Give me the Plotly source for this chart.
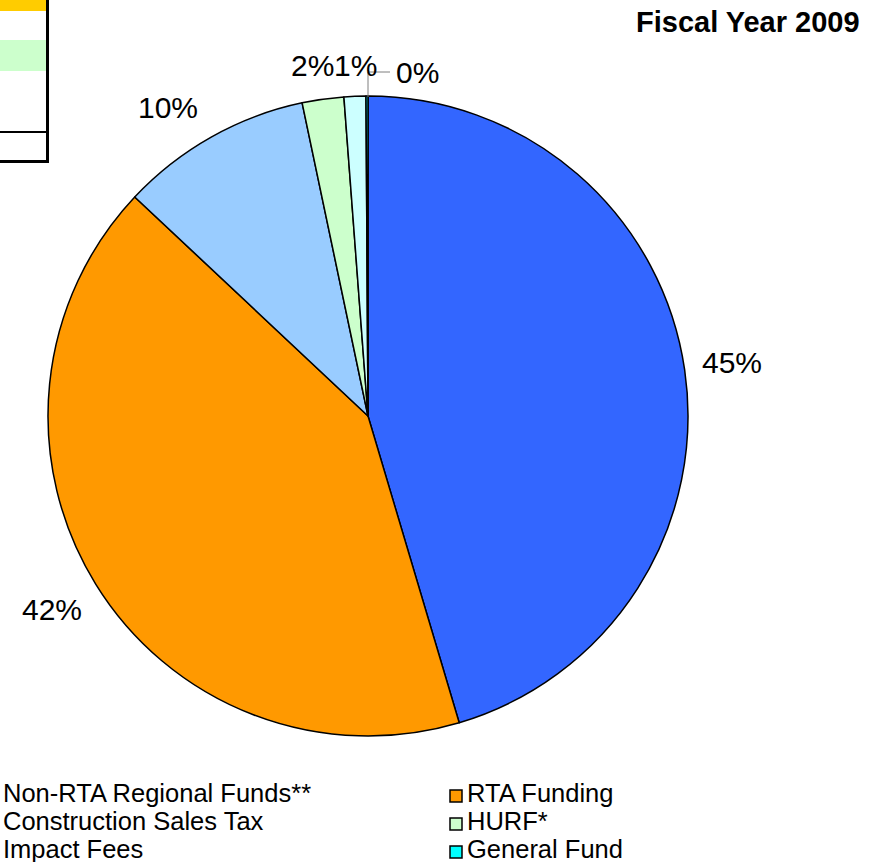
import plotly.graph_objects as go

# ---- data ----
categories = ["Non-RTA Regional Funds**", "RTA Funding", "Construction Sales Tax",
              "HURF*", "Impact Fees", "General Fund"]
shares = [45.4, 41.6, 9.7, 2.1, 1.1, 0.1]
slice_colors = ["#3366FF", "#FF9900", "#99CCFF", "#CCFFCC", "#CCFFFF", "#00FFFF"]
title_text = "Fiscal Year 2009"

# ---- layout helpers ----
W, H = 884, 862
def px(x):
    return x / W
def py(y):
    return 1 - y / H

FONT = "Liberation Sans, Arial, Helvetica, sans-serif"

fig = go.Figure()
fig.add_trace(go.Pie(
    labels=categories,
    values=shares,
    sort=False,
    direction="clockwise",
    rotation=0,
    marker=dict(colors=slice_colors, line=dict(color="black", width=1.5)),
    textinfo="none",
    hovertemplate="%{label}: %{percent}<extra></extra>",
    showlegend=False,
    domain=dict(x=[px(48), px(688)], y=[py(736), py(96)]),
))

total = sum(shares)
pct_texts = [f"{round(100 * v / total)}%" for v in shares]
label_pos = [(732, 362), (52, 609), (168, 108), (312, 66), (355, 66), (417, 72)]

annotations = []
for t, (lx, ly) in zip(pct_texts, label_pos):
    annotations.append(dict(
        x=px(lx), y=py(ly), xref="paper", yref="paper", text=t, showarrow=False,
        xanchor="center", yanchor="middle", font=dict(family=FONT, size=30, color="black"),
        borderpad=0,
    ))

# title
annotations.append(dict(
    x=px(861), y=py(22), xref="paper", yref="paper", text="<b>" + title_text + "</b>",
    showarrow=False, xanchor="right", yanchor="middle",
    font=dict(family=FONT, size=29, color="black"), borderpad=0,
))

shapes = []
# legend (two columns, row-wise order)
col_text_x = [2, 466]
col_mark_x = [-22, 450]
row_y = [793, 821, 849]
for i, (name, col) in enumerate(zip(categories, slice_colors)):
    c, r = i % 2, i // 2
    annotations.append(dict(
        x=px(col_text_x[c]), y=py(row_y[r]), xref="paper", yref="paper", text=name,
        showarrow=False, xanchor="left", yanchor="middle",
        font=dict(family=FONT, size=25.5, color="black"), borderpad=0,
    ))
    mx = col_mark_x[c]
    shapes.append(dict(
        type="rect", xref="paper", yref="paper",
        x0=px(mx), x1=px(mx + 12), y0=py(row_y[r] + 9), y1=py(row_y[r] - 3),
        fillcolor=col, line=dict(color="black", width=1.5),
    ))

# leader line for the 0% label
shapes.append(dict(
    type="path", xref="paper", yref="paper",
    path=f"M {px(368)} {py(97)} L {px(368)} {py(72)} L {px(390)} {py(72)}",
    line=dict(color="#7F7F7F", width=1),
))

# partial table fragment at top-left
shapes += [
    dict(type="rect", xref="paper", yref="paper", x0=px(-5), x1=px(46), y0=py(11), y1=py(-5),
         fillcolor="#FFCC00", line=dict(width=0)),
    dict(type="rect", xref="paper", yref="paper", x0=px(-5), x1=px(46), y0=py(71), y1=py(40),
         fillcolor="#CCFFCC", line=dict(width=0)),
    dict(type="line", xref="paper", yref="paper", x0=px(-5), x1=px(47), y0=py(132), y1=py(132),
         line=dict(color="black", width=2)),
    dict(type="line", xref="paper", yref="paper", x0=px(47.5), x1=px(47.5), y0=py(-5), y1=py(163),
         line=dict(color="black", width=3)),
    dict(type="line", xref="paper", yref="paper", x0=px(-5), x1=px(49), y0=py(161.5), y1=py(161.5),
         line=dict(color="black", width=3)),
]

fig.update_layout(
    width=W, height=H,
    margin=dict(l=0, r=0, t=0, b=0),
    paper_bgcolor="white", plot_bgcolor="white",
    annotations=annotations, shapes=shapes,
    showlegend=False,
)

fig.write_html("out.html", config={"displayModeBar": False},
               post_script="document.body.style.margin='0px';document.body.style.overflow='hidden';")
